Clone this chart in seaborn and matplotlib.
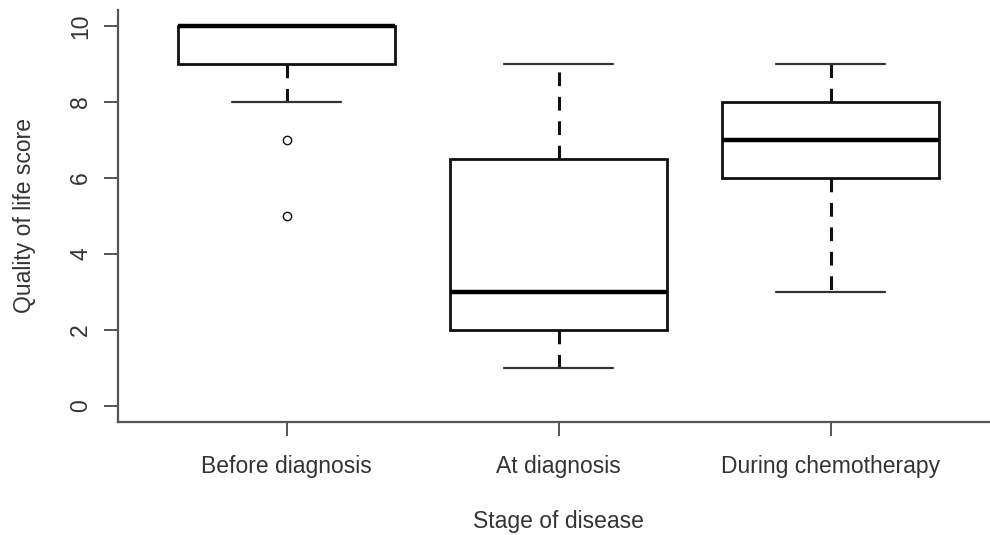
import pandas as pd
import numpy as np
import matplotlib
matplotlib.use("Agg")
import matplotlib.pyplot as plt
import seaborn as sns

# raw scores per stage (chosen so quartiles / whiskers match the figure)
stages = ["Before diagnosis", "At diagnosis", "During chemotherapy"]
before_scores = [5, 7, 8, 9, 9, 9, 10, 10, 10, 10, 10, 10, 10, 10, 10, 10]
at_scores = [1, 2, 2, 2, 3, 3, 4, 6, 7, 8, 9]
during_scores = [3, 5, 6, 6, 7, 8, 8, 9, 9]
y_ticks = [0, 2, 4, 6, 8, 10]

df = pd.DataFrame({
    "stage": [stages[0]] * len(before_scores) + [stages[1]] * len(at_scores)
             + [stages[2]] * len(during_scores),
    "score": before_scores + at_scores + during_scores,
})

sns.set_style("white")
plt.rcParams["font.family"] = ["Liberation Sans", "DejaVu Sans"]

fig = plt.figure(figsize=(9.9, 5.35), dpi=100)
ax = fig.add_axes([0.1192, 0.2112, 0.890, 0.7705])

sns.boxplot(
    data=df, x="stage", y="score", order=stages, ax=ax,
    color="white", linecolor="#111111", linewidth=2.0, width=0.8,
    fliersize=6, whis=1.5,
    whiskerprops={"linestyle": (0, (4.5, 3.5)), "linewidth": 2.2},
    capprops={"linewidth": 1.6, "color": "#333333"},
    medianprops={"linewidth": 3.2, "color": "#000000"},
    flierprops={"marker": "o", "markerfacecolor": "none",
                "markeredgecolor": "#111111", "markeredgewidth": 1.0},
)

ax.set_xlim(-0.62, 2.62)
ax.set_ylim(-0.42, 10.42)
ax.set_yticks(y_ticks)
ax.set_yticklabels([str(t) for t in y_ticks], rotation=90, va="center",
                   fontsize=16.5, color="#333333")
ax.set_xticks(range(len(stages)))
ax.set_xticklabels(stages, fontsize=16.5, color="#333333")
ax.tick_params(axis="both", direction="out", length=10, width=1.4,
               color="#555555", left=True, bottom=True)
ax.tick_params(axis="x", pad=13.5)
ax.tick_params(axis="y", pad=8.5)

for side in ["top", "right"]:
    ax.spines[side].set_visible(False)
for side in ["left", "bottom"]:
    ax.spines[side].set_color("#555555")
    ax.spines[side].set_linewidth(1.6)

ax.set_xlabel("Stage of disease", fontsize=16.5, color="#333333", labelpad=23)
ax.set_ylabel("Quality of life score", fontsize=16.5, color="#333333", labelpad=24)

fig.savefig("out.png", dpi=100)
